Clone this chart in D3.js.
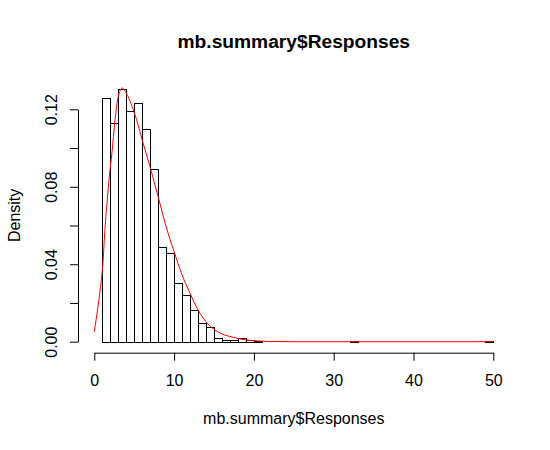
<!DOCTYPE html>
<html lang="en">
<head>
  <meta charset="UTF-8">
  <title>mb.summary$Responses</title>
  <script src="https://d3js.org/d3.v7.min.js"></script>
  <style>
    body { margin: 0; background: #fff; }
    text { font-family: "Liberation Sans", Arial, sans-serif; fill: #000; }
  </style>
</head>
<body>
  <script>
    // histogram breaks (bin edges) and densities
    const breaks = [1, 2, 3, 4, 5, 6, 7, 8, 9, 10, 11, 12, 13, 14, 15, 16, 17, 18, 19, 20,
                    21, 22, 23, 24, 25, 26, 27, 28, 29, 30, 31, 32, 33, 34, 35, 36, 37, 38, 39, 40,
                    41, 42, 43, 44, 45, 46, 47, 48, 49, 50];
    const density = [0.1258, 0.1129, 0.1304, 0.1191, 0.1232, 0.1098, 0.0891, 0.0488, 0.0460, 0.0303,
                     0.0240, 0.0162, 0.0095, 0.0074, 0.0018, 0.0007, 0.0007, 0.0018, 0.0007, 0.0005,
                     0, 0, 0, 0, 0, 0, 0, 0, 0, 0,
                     0, 0.0005, 0, 0, 0, 0, 0, 0, 0, 0,
                     0, 0, 0, 0, 0, 0, 0, 0, 0.0005];

    // fitted curve (red)
    const curveX = [0, 0.46, 0.88, 1.1, 1.3, 1.6, 1.9, 2.2, 2.6, 3.0, 3.5, 4.0, 4.66, 5.3, 6.0, 7.0,
                    8.0, 9.0, 10.0, 11.0, 12.0, 13.0, 14.0, 15.0, 16.0, 17.4, 19.0, 20.5, 22, 25, 50];
    const curveY = [0.0052, 0.0181, 0.0319, 0.0415, 0.0560, 0.0720, 0.0860, 0.0970, 0.1146, 0.1266,
                    0.1310, 0.1284, 0.1223, 0.1146, 0.1042, 0.0901, 0.0749, 0.0594, 0.0465, 0.0345,
                    0.0250, 0.0164, 0.0103, 0.0064, 0.0040, 0.0023, 0.0009, 0.0004, 0.0001, 0, 0];

    const xTicks = [0, 10, 20, 30, 40, 50];
    const yTicks = [0, 0.02, 0.04, 0.06, 0.08, 0.10, 0.12];
    const yTickLabels = ["0.00", "", "0.04", "", "0.08", "", "0.12"];

    const width = 550, height = 450;
    const svg = d3.select("body").append("svg")
      .attr("width", width)
      .attr("height", height);

    const x = d3.scaleLinear().domain([0, 50]).range([94.3, 493.3]);
    const y = d3.scaleLinear().domain([0, 0.12]).range([341.7, 109.3]);

    // bars
    const bins = density.map((d, i) => ({ x0: breaks[i], x1: breaks[i + 1], d: d }));
    svg.append("g")
      .selectAll("rect")
      .data(bins)
      .join("rect")
      .attr("x", b => Math.round(x(b.x0)) + 0.5)
      .attr("width", b => Math.round(x(b.x1)) - Math.round(x(b.x0)))
      .attr("y", b => Math.round(y(b.d)) + 0.5)
      .attr("height", b => Math.round(y(0)) - Math.round(y(b.d)))
      .attr("fill", "#fff")
      .attr("stroke", "#000")
      .attr("stroke-width", 1);

    // red curve
    const line = d3.line()
      .x((d, i) => x(curveX[i]))
      .y((d, i) => y(curveY[i]))
      .curve(d3.curveMonotoneX);
    svg.append("path")
      .datum(curveX)
      .attr("d", line)
      .attr("fill", "none")
      .attr("stroke", "#ff0000")
      .attr("stroke-width", 1);

    // x axis
    const xAxis = svg.append("g")
      .attr("transform", "translate(0,352.7)")
      .call(d3.axisBottom(x).tickValues(xTicks).tickSize(8).tickSizeOuter(0));
    xAxis.selectAll("text")
      .attr("y", 33).attr("dy", 0)
      .style("font-size", "16px");

    // y axis
    const yAxis = svg.append("g")
      .attr("transform", "translate(78,0)")
      .call(d3.axisLeft(y).tickValues(yTicks).tickSize(8).tickSizeOuter(0)
        .tickFormat((d, i) => yTickLabels[i]));
    yAxis.selectAll("text")
      .attr("transform", "rotate(-90)")
      .attr("x", 0).attr("y", -21.3).attr("dy", 0)
      .attr("text-anchor", "middle")
      .style("font-size", "16px");

    svg.selectAll(".domain, .tick line").attr("stroke", "#000");
    svg.selectAll(".tick text").style("font-family", "'Liberation Sans', Arial, sans-serif");

    // titles
    svg.append("text")
      .attr("x", 293.8).attr("y", 48.3)
      .attr("text-anchor", "middle")
      .style("font-size", "19.2px")
      .style("font-weight", "bold")
      .text("mb.summary$Responses");

    svg.append("text")
      .attr("x", 293.8).attr("y", 424.3)
      .attr("text-anchor", "middle")
      .style("font-size", "16px")
      .text("mb.summary$Responses");

    svg.append("text")
      .attr("transform", "translate(20,215.4) rotate(-90)")
      .attr("text-anchor", "middle")
      .style("font-size", "16px")
      .text("Density");
  </script>
</body>
</html>
